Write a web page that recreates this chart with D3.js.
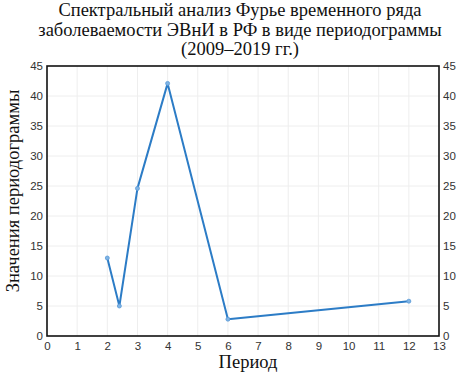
<!DOCTYPE html>
<html><head><meta charset="utf-8">
<script src="https://cdn.jsdelivr.net/npm/d3@7"></script>
<style>body{margin:0;background:#fff}svg{display:block}</style>
</head><body>
<script>
const periods = [2, 2.4, 3, 4, 6, 12];
const values = [13.0, 5.0, 24.6, 42.1, 2.8, 5.8];
const xTicks = d3.range(0, 14);
const yTicks = d3.range(0, 50, 5);
const titleLines = ["Спектральный анализ Фурье временного ряда", "заболеваемости ЭВнИ в РФ в виде периодограммы", "(2009–2019 гг.)"];
const xLabel = "Период";
const yLabel = "Значения периодограммы";

const W = 462, H = 376;
const m = {l: 47, r: 23, t: 66, b: 40};
const svg = d3.select("body").append("svg").attr("width", W).attr("height", H);
const x = d3.scaleLinear().domain([0, 13]).range([m.l, W - m.r]);
const y = d3.scaleLinear().domain([0, 45]).range([H - m.b, m.t]);

// grid
svg.append("g").selectAll("line.gx").data(xTicks.slice(1, -1)).join("line")
  .attr("x1", d => x(d)).attr("x2", d => x(d)).attr("y1", y(0)).attr("y2", y(45))
  .attr("stroke", "#eeeeee").attr("stroke-width", 1);
svg.append("g").selectAll("line.gy").data(yTicks.slice(1, -1)).join("line")
  .attr("y1", d => y(d)).attr("y2", d => y(d)).attr("x1", x(0)).attr("x2", x(13))
  .attr("stroke", "#eeeeee").attr("stroke-width", 1);

const tickFont = "'Liberation Sans', Arial, sans-serif";
function styleAxis(g) {
  g.select(".domain").remove();
  g.selectAll(".tick line").remove();
  g.selectAll("text").attr("font-family", tickFont).attr("font-size", 11.5).attr("fill", "#333");
}
svg.append("g").attr("transform", `translate(0,${y(0)})`)
  .call(d3.axisBottom(x).tickValues(xTicks).tickSize(0).tickPadding(6)).call(styleAxis);
svg.append("g").attr("transform", `translate(${x(0)},0)`)
  .call(d3.axisLeft(y).tickValues(yTicks).tickSize(0).tickPadding(4)).call(styleAxis);
svg.append("g").attr("transform", `translate(${x(13)},0)`)
  .call(d3.axisRight(y).tickValues(yTicks).tickSize(0).tickPadding(4)).call(styleAxis);

// frame
svg.append("rect").attr("x", x(0)).attr("y", y(45)).attr("width", x(13) - x(0)).attr("height", y(0) - y(45))
  .attr("fill", "none").attr("stroke", "#111").attr("stroke-width", 1.6);

// line
const pts = periods.map((p, i) => [p, values[i]]);
svg.append("path").datum(pts)
  .attr("d", d3.line().x(d => x(d[0])).y(d => y(d[1])))
  .attr("fill", "none").attr("stroke", "#2c7cc6").attr("stroke-width", 2).attr("stroke-linejoin", "round");
svg.append("g").selectAll("circle").data(pts).join("circle")
  .attr("cx", d => x(d[0])).attr("cy", d => y(d[1])).attr("r", 2)
  .attr("fill", "#7fb3e3").attr("stroke", "#5b9bd8").attr("stroke-width", 0.8);

// title
const serif = "'Liberation Serif', 'Times New Roman', serif";
svg.append("g").selectAll("text").data(titleLines).join("text")
  .attr("x", 240).attr("y", (d, i) => 16 + i * 19.5)
  .attr("text-anchor", "middle").attr("font-family", serif).attr("font-size", 18.5).attr("fill", "#111")
  .text(d => d);

svg.append("text").attr("x", 248).attr("y", 368).attr("text-anchor", "middle")
  .attr("font-family", serif).attr("font-size", 18.5).attr("fill", "#111").text(xLabel);
svg.append("text").attr("transform", `translate(19,${y(22.5) - 10}) rotate(-90)`).attr("text-anchor", "middle")
  .attr("font-family", serif).attr("font-size", 18.5).attr("fill", "#111").text(yLabel);
</script>
</body></html>
